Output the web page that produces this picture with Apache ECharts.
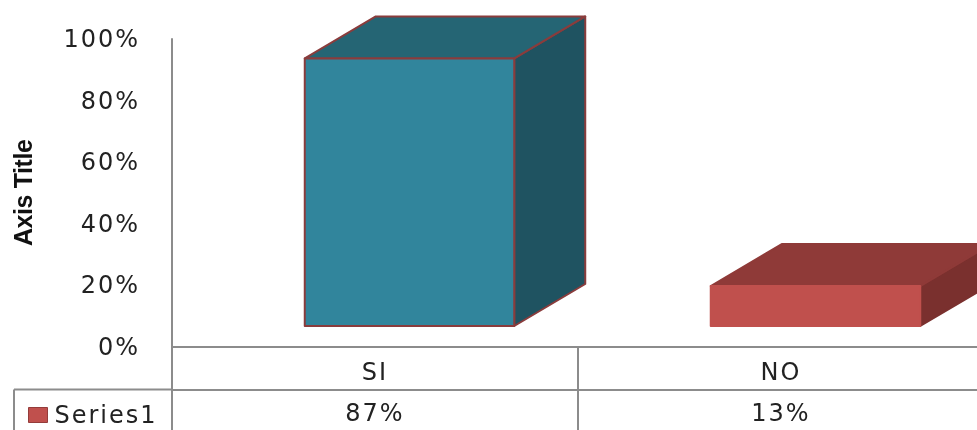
<!DOCTYPE html>
<html>
<head>
<meta charset="utf-8">
<style>
html,body{margin:0;padding:0;background:#fff;overflow:hidden;width:977px;height:430px}
#c{width:1000px;height:430px;filter:blur(0.6px)}
#c svg text{letter-spacing:2px}
#c svg text[style*="bold"]{letter-spacing:-0.4px}
</style>
<script src="https://cdn.jsdelivr.net/npm/echarts@6/dist/echarts.min.js"></script>
</head>
<body>
<div id="c"></div>
<script>
var categories = ['SI', 'NO'];
var values = [87, 13];
var seriesName = 'Series1';
var yTicks = [0, 20, 40, 60, 80, 100];
var frontColors = ['#31859c', '#c0504d'];
var topColors = ['#256574', '#8f3a38'];
var sideColors = ['#1f5361', '#7a302e'];
var edgeColors = ['#8a3c3c', null];
var grey = '#8c8c8c';
var textColor = '#222222';
var font = 'DejaVu Sans';

var chart = echarts.init(document.getElementById('c'), null, {renderer: 'svg'});

function renderBar(params, api) {
  var i = api.value(0);
  var base = api.coord([i, 0]);
  var top = api.coord([i, api.value(1)]);
  var band = api.size([1, 0])[0];
  var w = band * 0.516;
  var dx = 71, dy = 42;          // oblique depth of the 3-D box
  var shiftX = 34.5, shiftY = -20.5; // the front face stands in from the floor edge
  var l = base[0] + shiftX - w / 2, r = l + w;
  var b = base[1] + shiftY, t = top[1] + shiftY;
  function poly(pts, fill) {
    return {type: 'polygon', shape: {points: pts},
      style: {fill: fill, stroke: edgeColors[i] || fill, lineWidth: 2, lineJoin: 'round'}};
  }
  return {type: 'group', children: [
    poly([[r, t], [r + dx, t - dy], [r + dx, b - dy], [r, b]], sideColors[i]),
    poly([[l, t], [l + dx, t - dy], [r + dx, t - dy], [r, t]], topColors[i]),
    poly([[l, t], [r, t], [r, b], [l, b]], frontColors[i])
  ]};
}

chart.setOption({
  animation: false,
  backgroundColor: '#fff',
  grid: {left: 172, top: 39, width: 812, height: 307.5},
  legend: {
    left: 23, top: 398, itemWidth: 19, itemHeight: 15, itemGap: 0,
    icon: 'rect',
    data: [seriesName],
    textStyle: {fontFamily: font, fontSize: 24, color: textColor, padding: [0, 0, 0, 2]},
    itemStyle: {borderColor: '#943c3a', borderWidth: 1}
  },
  xAxis: [
    {
      type: 'category', data: categories, position: 'bottom',
      axisLine: {lineStyle: {color: grey, width: 2}},
      axisTick: {show: true, length: 84, lineStyle: {color: grey, width: 2}},
      axisLabel: {fontFamily: font, fontSize: 24, color: textColor, margin: 13}
    },
    {
      type: 'category', data: values.map(function (v) { return v + '%'; }),
      position: 'bottom', offset: 43,
      axisLine: {show: true, lineStyle: {color: grey, width: 2}},
      axisTick: {show: false},
      axisLabel: {fontFamily: font, fontSize: 24, color: textColor, margin: 11}
    }
  ],
  yAxis: {
    type: 'value', min: yTicks[0], max: yTicks[yTicks.length - 1], interval: 20,
    name: 'Axis Title', nameLocation: 'middle', nameRotate: 90, nameGap: 137,
    nameTextStyle: {fontFamily: 'Liberation Sans', fontWeight: 'bold', fontSize: 25, color: '#111'},
    axisLine: {show: true, lineStyle: {color: grey, width: 2}},
    axisTick: {show: false},
    splitLine: {show: false},
    axisLabel: {fontFamily: font, fontSize: 24, color: textColor, margin: 32, formatter: '{value}%'}
  },
  graphic: [
    {type: 'line', shape: {x1: 14, y1: 389.5, x2: 172, y2: 389.5}, style: {stroke: grey, lineWidth: 2}},
    {type: 'line', shape: {x1: 14, y1: 389.5, x2: 14, y2: 430}, style: {stroke: grey, lineWidth: 2}}
  ],
  series: [{
    type: 'custom', name: seriesName, clip: false,
    itemStyle: {color: frontColors[1]},
    renderItem: renderBar,
    encode: {x: 0, y: 1},
    data: values.map(function (v, i) { return [i, v]; })
  }]
});
</script>
</body>
</html>
